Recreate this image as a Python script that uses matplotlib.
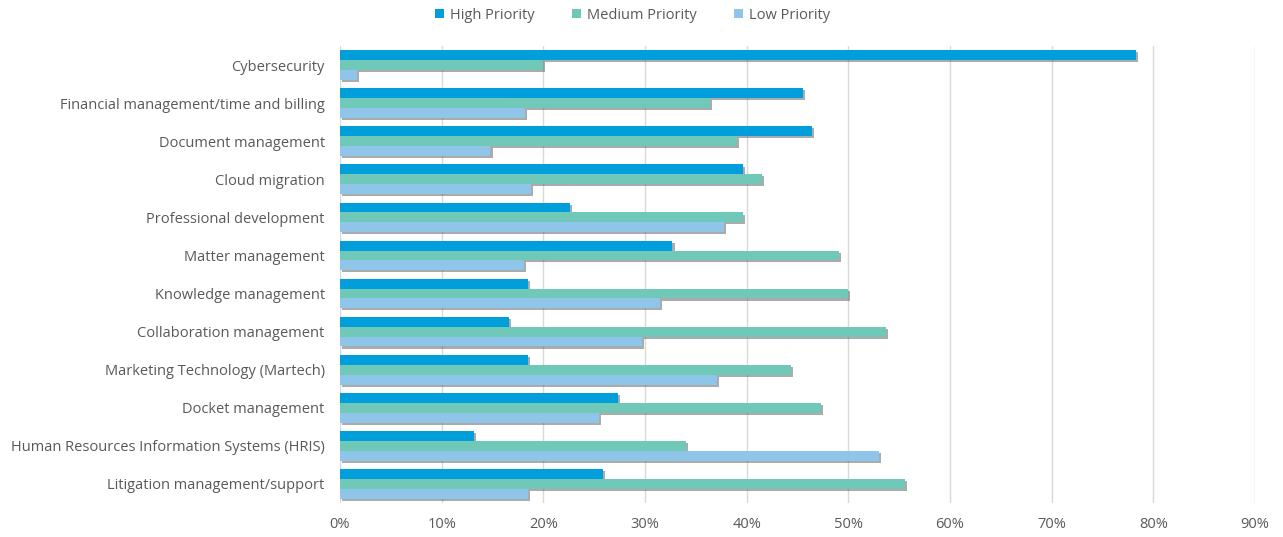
import matplotlib
matplotlib.use("Agg")
import matplotlib.pyplot as plt
import matplotlib.patheffects as pe
from matplotlib.patches import Patch
from matplotlib.ticker import FuncFormatter
import numpy as np

categories = [
    "Cybersecurity",
    "Financial management/time and billing",
    "Document management",
    "Cloud migration",
    "Professional development",
    "Matter management",
    "Knowledge management",
    "Collaboration management",
    "Marketing Technology (Martech)",
    "Docket management",
    "Human Resources Information Systems (HRIS)",
    "Litigation management/support",
]
high = [78.3, 45.5, 46.4, 39.6, 22.6, 32.7, 18.5, 16.6, 18.5, 27.3, 13.2, 25.9]
medium = [20.0, 36.4, 39.0, 41.5, 39.6, 49.1, 50.0, 53.7, 44.4, 47.3, 34.0, 55.6]
low = [1.7, 18.2, 14.8, 18.8, 37.8, 18.1, 31.5, 29.7, 37.1, 25.5, 53.0, 18.5]
series_names = ["High Priority", "Medium Priority", "Low Priority"]
colors = ["#009EDB", "#70C8B8", "#8EC5E8"]
xticks = [0, 10, 20, 30, 40, 50, 60, 70, 80, 90]

plt.rcParams['font.family'] = ['Open Sans', 'DejaVu Sans']

fig = plt.figure(figsize=(12.83, 5.37), dpi=100)
ax = fig.add_axes([340/1283, 1-503/537, 915/1283, 457/537])

y = np.arange(len(categories))
h = 0.26
shadow = [pe.SimplePatchShadow(offset=(1.5, -1.5), shadow_rgbFace='#666666', alpha=0.55), pe.Normal()]
for vals, off, c, name in zip([high, medium, low], [-h, 0, h], colors, series_names):
    bars = ax.barh(y + off, vals, height=h, color=c, zorder=3)
    for b in bars:
        b.set_path_effects(shadow)

ax.set_ylim(len(categories) - 0.5, -0.5)
ax.set_xlim(0, 90)
ax.set_xticks(xticks)
ax.xaxis.set_major_formatter(FuncFormatter(lambda v, p: f"{int(v)}%"))
ax.set_yticks(y)
ax.set_yticklabels(categories)
ax.tick_params(axis='both', length=0, colors='#595959', labelsize=10.5)
ax.tick_params(axis='y', pad=11)
ax.tick_params(axis='x', pad=10)
ax.grid(axis='x', color='#D9D9D9', linewidth=1, zorder=0)
for s in ['top', 'right', 'bottom', 'left']:
    ax.spines[s].set_visible(False)

handles = [Patch(facecolor=c, edgecolor='none', label=n) for c, n in zip(colors, series_names)]
fig.legend(handles=handles, loc='upper center', bbox_to_anchor=(0.493, 1.01), ncol=3, frameon=False,
           fontsize=10.5, handlelength=0.6, handleheight=0.6, handletextpad=0.4,
           columnspacing=2.6, labelcolor='#595959')

fig.savefig("out.png", dpi=100)
